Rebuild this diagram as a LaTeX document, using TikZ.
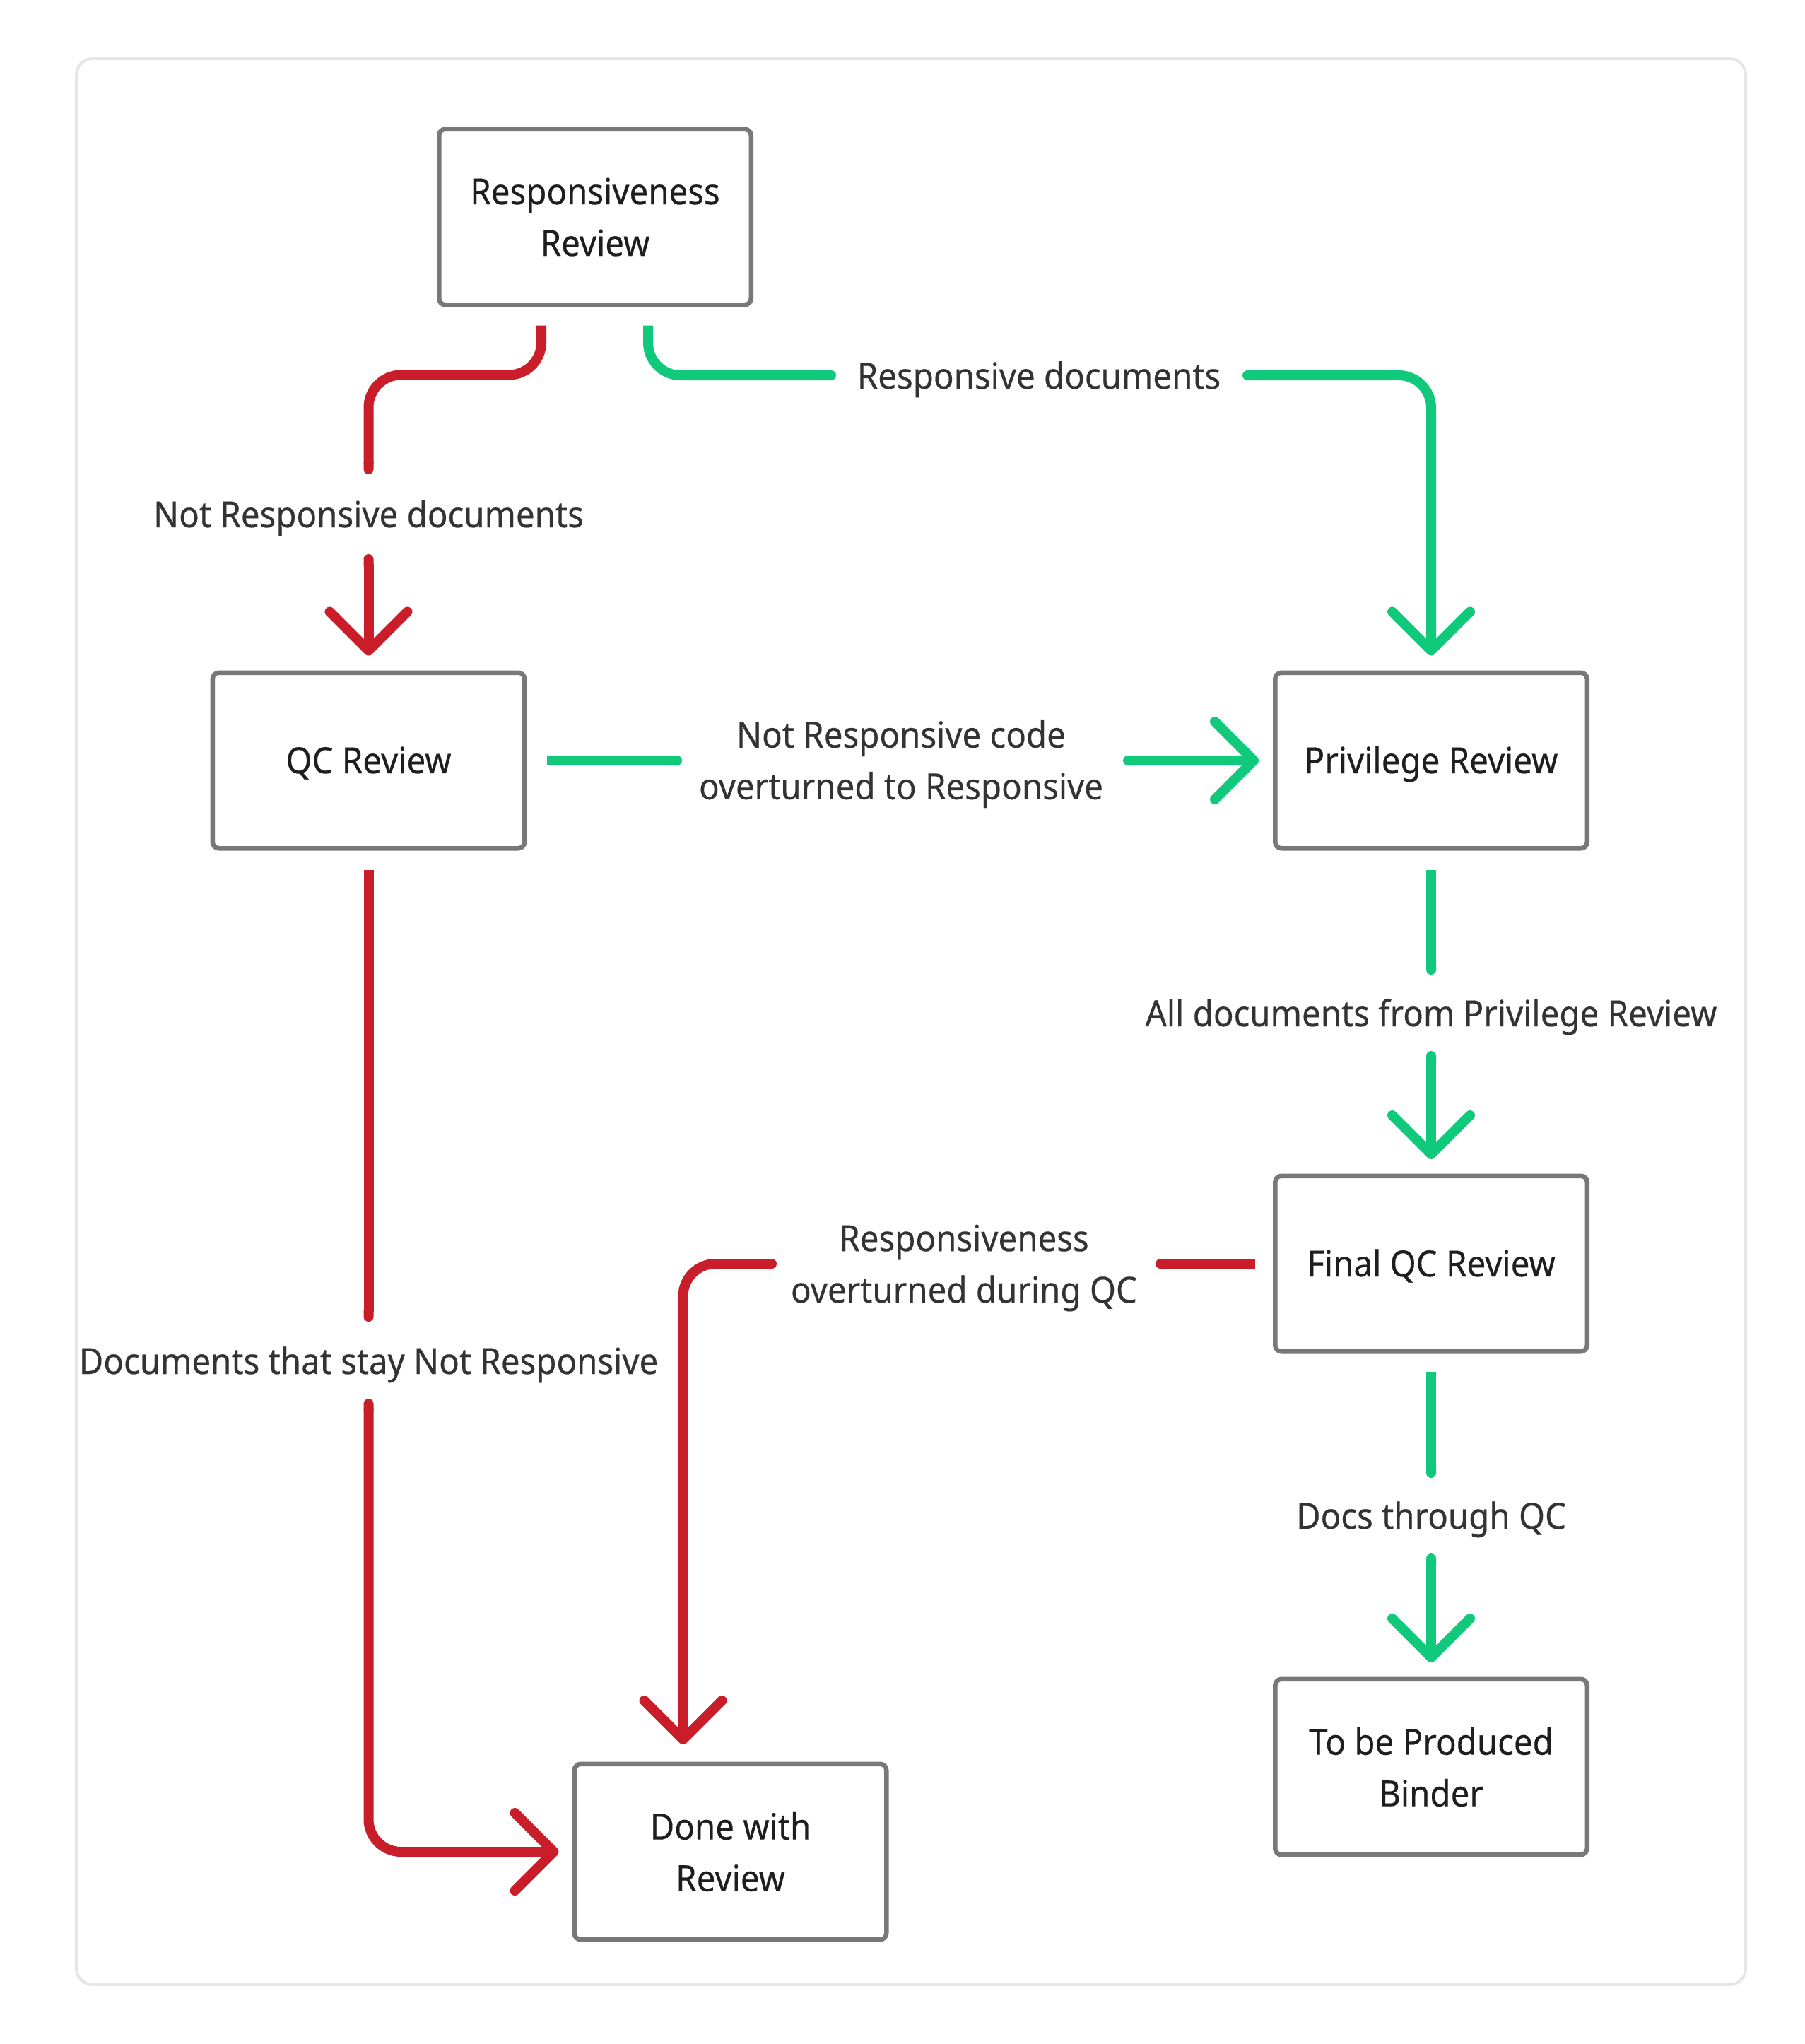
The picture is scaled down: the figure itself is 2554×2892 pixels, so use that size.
\documentclass[tikz,border=0pt]{standalone}
\usepackage{fontspec}
\setmainfont{Noto Sans}[FakeStretch=0.93, FakeBold=0.3]
\usetikzlibrary{arrows.meta,calc}
\definecolor{redc}{HTML}{C91D29}
\definecolor{greenc}{HTML}{10C97B}
\definecolor{boxgray}{HTML}{787878}
\definecolor{framegray}{HTML}{E6E6E6}
\definecolor{txtbox}{HTML}{1E1E1E}
\definecolor{txtlbl}{HTML}{333333}
\begin{document}
\begin{tikzpicture}[x=1pt,y=-1pt,
  box/.style={draw=boxgray, line width=6.5pt, rounded corners=9pt, fill=white,
    minimum width=441.5pt, minimum height=248.5pt, inner sep=0pt, align=center,
    text=txtbox, font=\fontsize{51}{73}\selectfont},
  onebox/.style={box, text height=38pt, text depth=2pt},
  lbl/.style={inner sep=0pt, align=center, text=txtlbl, font=\fontsize{51}{73}\selectfont},
  conn/.style={line width=14pt, line cap=butt, rounded corners=46pt},
  rd/.style={conn, draw=redc},
  gr/.style={conn, draw=greenc},
  endcap/.style={-{Round Cap[]}},
  tipped/.style={{Round Cap[]}-{Straight Barb[length=55pt,width=110pt,round]}}
]
\useasboundingbox (0,0) rectangle (2554,2892);
\draw[framegray, line width=4pt, rounded corners=23pt] (108,83) rectangle (2470,2808);

% boxes
\node[box] (RR) at (842,307) {Responsiveness\\Review};
\node[onebox] (QC) at (521.5,1076) {QC Review};
\node[onebox] (PR) at (2025,1076) {Privilege Review};
\node[onebox] (FQ) at (2025,1788) {Final QC Review};
\node[box] (TB) at (2025,2500) {To be Produced\\Binder};
\node[box] (DR) at (1033.5,2620) {Done with\\Review};

% free ends
\coordinate (r1a) at (521.5,671);
\coordinate (r1b) at (521.5,784);
\coordinate (g2a) at (1183,531);
\coordinate (g2b) at (1758,531);
\coordinate (g3a) at (965,1076);
\coordinate (g3b) at (1589,1076);
\coordinate (g4a) at (2025,1379);
\coordinate (g4b) at (2025,1487);
\coordinate (g5a) at (2025,2091);
\coordinate (g5b) at (2025,2198);
\coordinate (r6a) at (1635,1788);
\coordinate (r6b) at (1099,1788);
\coordinate (r7a) at (521.5,1870);
\coordinate (r7b) at (521.5,1979);

% labels
\node[lbl, anchor=base] (L1) at (521.5,746) {Not Responsive documents};
\node[lbl, anchor=base] (L2) at (1470,550) {Responsive documents};
\node[lbl] (L3) at (1275,1081) {Not Responsive code\\overturned to Responsive};
\node[lbl, anchor=base] (L4) at (2025,1452) {All documents from Privilege Review};
\node[lbl] (L6) at (1364,1794) {Responsiveness\\overturned during QC};
\node[lbl, anchor=base] (L5) at (2025,2163) {Docs through QC};
\node[lbl, anchor=base] (L7) at (521.5,1944) {Documents that stay Not Responsive};

% connectors
\draw[rd, endcap] ([xshift=-76pt,yshift=-26pt]RR.south) -- ++(0,70) -| (r1a);
\draw[rd, tipped, shorten >=21pt] (r1b) -- (QC.north);

\draw[gr, endcap] ([xshift=75pt,yshift=-26pt]RR.south) |- (g2a);
\draw[gr, tipped, shorten >=21pt] (g2b) -| (PR.north);

\draw[gr, endcap] ([xshift=28pt]QC.east) -- (g3a);
\draw[gr, tipped, shorten >=20pt] (g3b) -- (PR.west);

\draw[gr, endcap] ([yshift=-27.5pt]PR.south) -- (g4a);
\draw[gr, tipped, shorten >=20.5pt] (g4b) -- (FQ.north);

\draw[gr, endcap] ([yshift=-25.5pt]FQ.south) -- (g5a);
\draw[gr, tipped, shorten >=20.5pt] (g5b) -- (TB.north);

\draw[rd, endcap] ([xshift=-25pt]FQ.west) -- (r6a);
\draw[rd, tipped, shorten >=24.5pt] (r6b) -| ([xshift=-67pt]DR.north);

\draw[rd, endcap] ([yshift=-27.5pt]QC.south) -- (r7a);
\draw[rd, tipped, shorten >=19pt] (r7b) |- (DR.west);
\end{tikzpicture}
\end{document}
